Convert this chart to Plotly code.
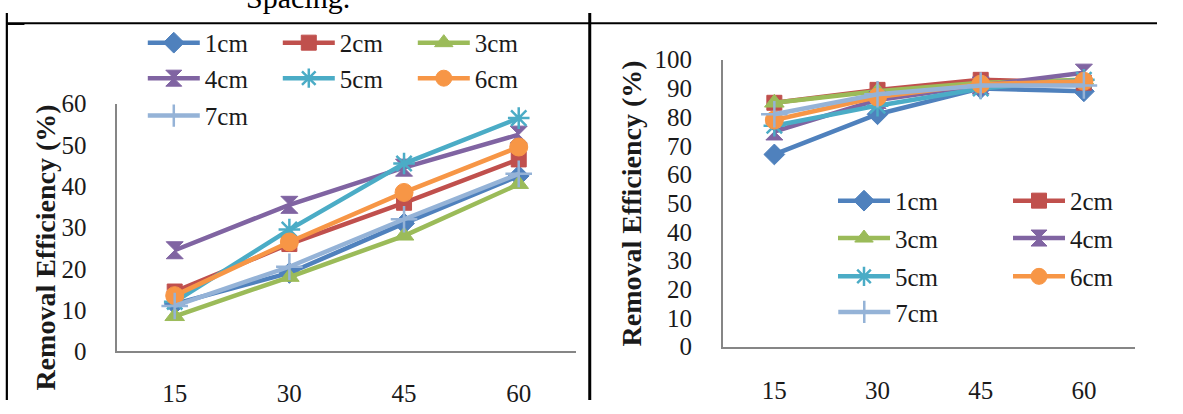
import plotly.graph_objects as go

W, H = 1183, 414

# contact time (min) on the category axis
times = ["15", "30", "45", "60"]
spacings = ["1cm", "2cm", "3cm", "4cm", "5cm", "6cm", "7cm"]

# left chart: removal efficiency (%) for each electrode spacing
left_1cm = [11.5, 19, 31, 42.5]
left_2cm = [14.5, 26, 36, 46.5]
left_3cm = [8.5, 18, 28, 40.5]
left_4cm = [24.5, 35.5, 44.5, 52.5]
left_5cm = [12, 29.5, 45.5, 56.5]
left_6cm = [13.5, 26.5, 38.5, 49.5]
left_7cm = [11, 20.5, 32, 43]

# right chart: removal efficiency (%) for each electrode spacing
right_1cm = [67, 81, 90, 89]
right_2cm = [85, 89.5, 93, 92]
right_3cm = [85, 89, 92, 93]
right_4cm = [75, 86, 91, 95.5]
right_5cm = [77, 84, 90, 93]
right_6cm = [79, 87, 91.5, 92.5]
right_7cm = [81, 88, 91, 91]

left_values = [left_1cm, left_2cm, left_3cm, left_4cm, left_5cm, left_6cm, left_7cm]
right_values = [right_1cm, right_2cm, right_3cm, right_4cm, right_5cm, right_6cm, right_7cm]

colors = ["#4F81BD", "#C0504D", "#9BBB59", "#8064A2", "#4BACC6", "#F79646", "#95B3D7"]
symbols = ["diamond", "square", "triangle-up", "hourglass", "asterisk-open",
           "circle", "cross-thin-open"]
sizes = [16, 15, 17, 17, 18, 18, 19]

FONT = "Liberation Serif, Times New Roman, DejaVu Serif, serif"
TXT = "#1a1a1a"
AXIS = "#868686"


def fx(px):
    return px / W


def fy(py):
    return 1 - py / H


def marker_for(i):
    sym = symbols[i]
    if sym.endswith("-open"):
        return dict(symbol=sym, size=sizes[i], color=colors[i],
                    line=dict(color=colors[i], width=2.5))
    return dict(symbol=sym, size=sizes[i], color=colors[i],
                line=dict(color=colors[i], width=1))


# legend rows: left chart 3 per row, right chart 2 per row
left_rows = [[0, 1, 2], [3, 4, 5], [6]]
right_rows = [[0, 1], [2, 3], [4, 5], [6]]
left_row_y = [32, 70, 110]
right_row_y = [201, 241, 282, 320]

fig = go.Figure()

legend_layouts = {}
leg_index = 0
left_leg_of = {}
for r, row in enumerate(left_rows):
    leg_index += 1
    name = "legend" if leg_index == 1 else f"legend{leg_index}"
    legend_layouts[name] = dict(y=fy(left_row_y[r]), x=fx(146), entrywidth=68)
    for i in row:
        left_leg_of[i] = name
right_leg_of = {}
for r, row in enumerate(right_rows):
    leg_index += 1
    name = f"legend{leg_index}"
    legend_layouts[name] = dict(y=fy(right_row_y[r]), x=fx(852), entrywidth=108)
    for i in row:
        right_leg_of[i] = name

for i, s in enumerate(spacings):
    fig.add_trace(go.Scatter(
        x=times, y=left_values[i], name=s, mode="lines+markers",
        line=dict(color=colors[i], width=4.5), marker=marker_for(i),
        xaxis="x", yaxis="y", legend=left_leg_of[i]))

for i, s in enumerate(spacings):
    fig.add_trace(go.Scatter(
        x=times, y=right_values[i], name=s, mode="lines+markers",
        line=dict(color=colors[i], width=4.5), marker=marker_for(i),
        xaxis="x2", yaxis="y2", legend=right_leg_of[i]))

axis_common = dict(showline=True, linecolor=AXIS, linewidth=1.5, showgrid=False,
                   zeroline=False, ticks="",
                   tickfont=dict(family=FONT, size=25, color=TXT))

layout = dict(
    width=W, height=H,
    margin=dict(l=0, r=0, t=0, b=0),
    paper_bgcolor="white", plot_bgcolor="white",
    showlegend=True,
    font=dict(family=FONT),
    xaxis=dict(domain=[fx(120), fx(589)], type="category", range=[-0.5, 3.5],
               anchor="y", ticklabelstandoff=19, **axis_common),
    yaxis=dict(domain=[fy(362), fy(97)], range=[0, 60], dtick=10, anchor="x",
               ticklabelstandoff=24, **axis_common),
    xaxis2=dict(domain=[fx(739), fx(1161)], type="category", range=[-0.5, 3.5],
                anchor="y2", ticklabelstandoff=21, **axis_common),
    yaxis2=dict(domain=[fy(357), fy(50)], range=[0, 100], dtick=10, anchor="x2",
                ticklabelstandoff=24, **axis_common),
)

for name, cfg in legend_layouts.items():
    layout[name] = dict(orientation="h", xanchor="left", yanchor="middle",
                        x=cfg["x"], y=cfg["y"], entrywidth=cfg["entrywidth"],
                        entrywidthmode="pixels", bgcolor="rgba(0,0,0,0)",
                        font=dict(family=FONT, size=25, color=TXT),
                        itemwidth=52, itemclick=False, tracegroupgap=0)

fig.update_layout(**layout)

# y-axis titles
for xpx, ypx in [(47, 251), (646, 204)]:
    fig.add_annotation(text="<b>Removal Efficiency (%)</b>", textangle=-90,
                       x=fx(xpx), y=fy(ypx), xref="paper", yref="paper",
                       xanchor="center", yanchor="middle", showarrow=False,
                       font=dict(family=FONT, size=28, color=TXT))

# caption line from the table cell above, mostly cut off at the top edge
fig.add_annotation(text="Spacing.", x=fx(305), y=fy(3), xref="paper", yref="paper",
                   xanchor="center", yanchor="bottom", showarrow=False,
                   font=dict(family=FONT, size=30, color="black"))


# table cell borders, drawn as paper-space paths
def seg(x0, y0, x1, y1):
    return f"M{fx(x0)},{fy(y0)} L{fx(x1)},{fy(y1)}"


borders = [
    (seg(7, 0, 7, H), 2.2),
    (seg(603, 0, 603, H), 3),
    (seg(7, 11, W, 11), 2),
    (seg(8, 12, 25, 12), 1.5),
]
for path, width in borders:
    fig.add_shape(type="path", path=path, xref="paper", yref="paper",
                  line=dict(color="black", width=width))

fig.write_html("out.html")
